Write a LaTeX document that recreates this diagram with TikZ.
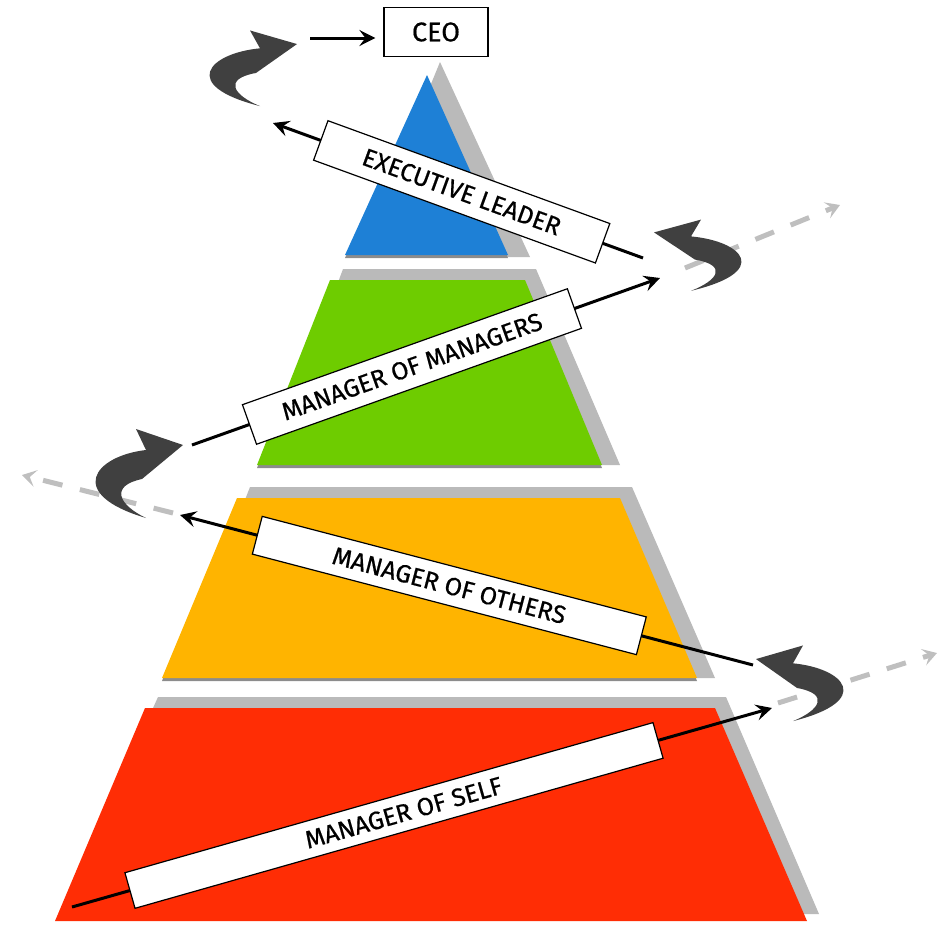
\documentclass[tikz,border=0pt]{standalone}
\usepackage{fontspec}
\setmainfont{Fira Sans}
\newfontfamily\labelfont{Fira Sans}[FakeBold=0.6]
\usetikzlibrary{arrows.meta}
\definecolor{execblue}{RGB}{30,128,214}
\definecolor{mgrgreen}{RGB}{110,204,0}
\definecolor{othorange}{RGB}{255,180,0}
\definecolor{selfred}{RGB}{255,45,5}
\definecolor{turngray}{RGB}{64,64,64}
% turning arrow, head to the right, body bulging left
\newcommand{\turnpath}{(44,-27) -- (-3,-43) -- (7,-22) .. controls (-45,-16) and (-74,22) .. (7,46) .. controls (-20,33) and (-30,14) .. (3,7) -- cycle}
\begin{document}
\begin{tikzpicture}[x=1pt,y=-1pt,
	shadowgray/.style={fill=black!27},
	baseshadow/.style={fill=black!45,yshift=-3pt},
	labelbox/.style={draw=black,line width=1.2pt,fill=white,sloped,inner sep=0pt,font=\labelfont\fontsize{25}{25}\selectfont},
	pathline/.style={line width=3pt,-{Stealth[length=16pt,width=16pt,inset=6pt]}},
	hintline/.style={line width=5pt,draw=black!25,dash pattern=on 20pt off 18pt,-{Stealth[length=14pt,width=17pt,inset=6pt]}},
	turnarrow/.style={fill=turngray}]
	\useasboundingbox (0,0) rectangle (939,924);
	% pyramid layers
	\fill [shadowgray] (440,62) -- (530,257) -- (360,257) -- cycle;
	\fill [baseshadow] (427,75) -- (508,255) -- (345,255) -- cycle;
	\fill [execblue] (427,75) -- (508,255) -- (345,255) -- cycle;
	\fill [shadowgray] (343,269) -- (536,269) -- (620,465) -- (270,465) -- cycle;
	\fill [baseshadow] (330,280) -- (525,280) -- (602,465) -- (257,465) -- cycle;
	\fill [mgrgreen] (330,280) -- (525,280) -- (602,465) -- (257,465) -- cycle;
	\fill [shadowgray] (250,487) -- (632,487) -- (715,678) -- (175,678) -- cycle;
	\fill [baseshadow] (237,498) -- (620,498) -- (697,678) -- (162,678) -- cycle;
	\fill [othorange] (237,498) -- (620,498) -- (697,678) -- (162,678) -- cycle;
	\fill [shadowgray] (158,697) -- (726,697) -- (819,914) -- (60,914) -- cycle;
	\fill [selfred] (145,708) -- (715,708) -- (807,921) -- (55,921) -- cycle;
	% dashed hints
	\coordinate (hint1-a) at (685,268);
	\coordinate (hint1-b) at (840,205);
	\coordinate (hint2-a) at (173,513);
	\coordinate (hint2-b) at (22,475);
	\coordinate (hint3-a) at (778,703);
	\coordinate (hint3-b) at (937,653);
	\draw [hintline] (hint1-a) -- (hint1-b);
	\draw [hintline] (hint2-a) -- (hint2-b);
	\draw [hintline] (hint3-a) -- (hint3-b);
	% turning arrows
	\fill [turnarrow,shift={(253,67)},yscale=0.85] \turnpath;
	\fill [turnarrow,shift={(698,254)},xscale=-1,yscale=0.8] \turnpath;
	\fill [turnarrow,shift={(139,472)}] \turnpath;
	\fill [turnarrow,shift={(800,682)},xscale=-1,yscale=0.85] \turnpath;
	% CEO
	\node [draw=black,line width=1.2pt,minimum width=104pt,minimum height=49pt,inner sep=0pt,font=\labelfont\fontsize{27}{27}\selectfont] (ceo) at (436,32) {CEO};
	\coordinate (ceo-in) at (310,38);
	\draw [pathline,shorten >=8pt] (ceo-in) -- (ceo-in -| ceo.west);
	% transitions
	\coordinate (exec-a) at (643,258);
	\coordinate (exec-b) at (273,123);
	\draw [pathline] (exec-a) -- node [labelbox,pos=0.49,minimum width=300pt,minimum height=42pt] (exec) {EXECUTIVE LEADER\hspace{20pt}} (exec-b);
	\coordinate (mom-a) at (192,445);
	\coordinate (mom-b) at (660,278);
	\draw [pathline] (mom-a) -- node [labelbox,pos=0.47,minimum width=345pt,minimum height=42pt] (mom) {MANAGER OF MANAGERS\hspace{14pt}} (mom-b);
	\coordinate (moo-a) at (753,665);
	\coordinate (moo-b) at (180,515);
	\draw [pathline] (moo-a) -- node [labelbox,pos=0.53,minimum width=397pt,minimum height=39pt] (moo) {MANAGER OF OTHERS\hspace{30pt}} (moo-b);
	\coordinate (mos-a) at (72,907);
	\coordinate (mos-b) at (772,708);
	\draw [pathline] (mos-a) -- node [labelbox,pos=0.46,minimum width=549pt,minimum height=37pt] (mos) {\hspace{20pt}MANAGER OF SELF} (mos-b);
\end{tikzpicture}
\end{document}
